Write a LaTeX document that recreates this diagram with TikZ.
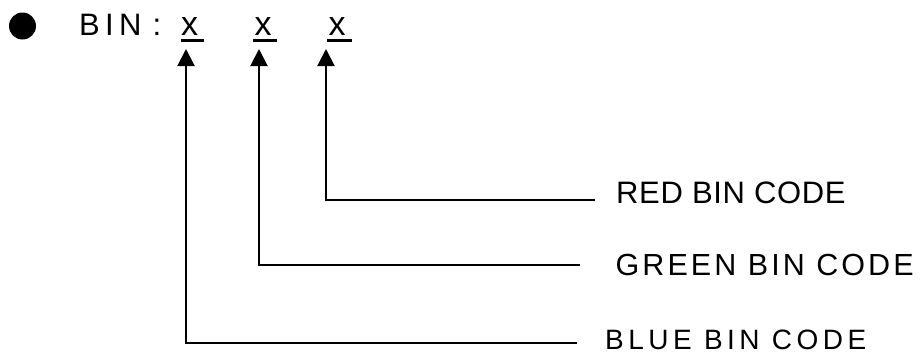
\documentclass[tikz,border=0pt]{standalone}
\usepackage{fontspec}
\setmainfont{Liberation Sans}
\newfontfamily\binfont[LetterSpace=17]{Liberation Sans}
\newfontfamily\redfont[LetterSpace=2]{Liberation Sans}
\newfontfamily\greenfont[LetterSpace=10]{Liberation Sans}
\newfontfamily\bluefont[LetterSpace=16]{Liberation Sans}
\usetikzlibrary{arrows.meta}
\begin{document}
\begin{tikzpicture}[x=1pt,y=-1pt,
  lbl/.style={anchor=base west,inner sep=0pt},
  ul/.style={line width=2.4pt},
  conn/.style={line width=2pt,-{Triangle[length=17pt,width=17pt]}}]
\useasboundingbox (0,0) rectangle (922,356);
% bullet
\fill (22.5,26) circle (13.5);
% header text
\node[lbl,font=\binfont\fontsize{31}{31}\selectfont] (bin) at (79,35.5) {BIN};
\node[lbl,font=\fontsize{31}{31}\selectfont] (colon) at (152.5,35.5) {:};
\node[lbl,font=\fontsize{34}{34}\selectfont] (x1) at (181,35.5) {x};
\node[lbl,font=\fontsize{34}{34}\selectfont] (x2) at (254.5,35.5) {x};
\node[lbl,font=\fontsize{34}{34}\selectfont] (x3) at (328.5,35.5) {x};
% underlines
\draw[ul] (181,40.5) -- (204,40.5);
\draw[ul] (253,40.5) -- (277,40.5);
\draw[ul] (327,40.5) -- (352,40.5);
% labels
\node[lbl,font=\redfont\fontsize{31}{31}\selectfont] (red) at (616,203.5) {RED BIN CODE};
\node[lbl,font=\greenfont\fontsize{30.5}{30.5}\selectfont] (green) at (615.5,275) {GREEN BIN CODE};
\node[lbl,font=\bluefont\fontsize{28}{28}\selectfont] (blue) at (605,349.5) {BLUE BIN CODE};
% connector coordinates
\coordinate (re) at (595,200);
\coordinate (rc) at (326,200);
\coordinate (rt) at (326,49);
\coordinate (ge) at (580,265);
\coordinate (gc) at (259,265);
\coordinate (gt) at (259,49);
\coordinate (be) at (577,343);
\coordinate (bc) at (186,343);
\coordinate (bt) at (186,49);
\draw[conn] (re) -- (rc) -- (rt);
\draw[conn] (ge) -- (gc) -- (gt);
\draw[conn] (be) -- (bc) -- (bt);
\end{tikzpicture}
\end{document}
